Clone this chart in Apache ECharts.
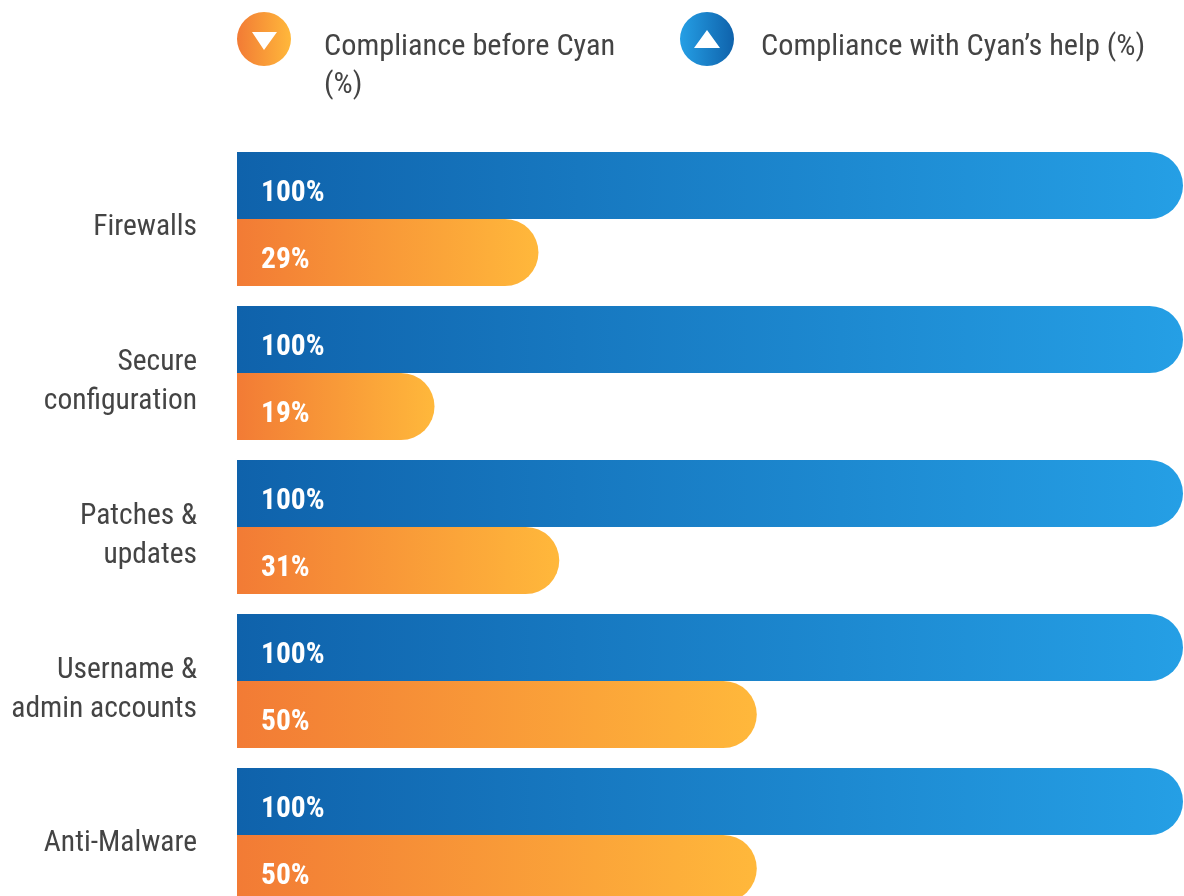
<!DOCTYPE html>
<html>
<head>
<meta charset="utf-8">
<title>Compliance before and with Cyan</title>
<style>
  html, body { margin: 0; padding: 0; background: #fff; }
  #chart { width: 1184px; height: 896px; }
</style>
<script src="https://cdn.jsdelivr.net/npm/echarts@6/dist/echarts.min.js"></script>
</head>
<body>
<div id="chart"></div>
<script>
const categories = ['Firewalls', 'Secure\nconfiguration', 'Patches &\nupdates', 'Username &\nadmin accounts', 'Anti-Malware'];
const withCyan = [100, 100, 100, 100, 100];
const beforeCyan = [29, 19, 31, 50, 50];

const FONT = '"Roboto Condensed", "Liberation Sans", sans-serif';
const BEFORE_NAME = 'Compliance before Cyan (%)';
const WITH_NAME = 'Compliance with Cyan\u2019s help (%)';

// left to right gradient, as used on the bars and legend badges
const grad = (from, to) => new echarts.graphic.LinearGradient(0, 0, 1, 0, [
  { offset: 0, color: from },
  { offset: 1, color: to },
]);

// circle with a triangle cut out of it
const CIRCLE = 'M27 0A27 27 0 1 1 27 54A27 27 0 1 1 27 0Z';
const ICON_DOWN = 'path://' + CIRCLE + 'M15 20L27 38L40 20Z';
const ICON_UP = 'path://' + CIRCLE + 'M27 18L14 36L40 36Z';

// legend text sits lower than its badge, the spacer line pushes it down
const legendBase = (spacer, gap) => ({
  orient: 'horizontal',
  padding: 0,
  itemWidth: 54,
  itemHeight: 54,
  selectedMode: false,
  textStyle: {
    padding: [0, 0, 0, gap],
    rich: {
      s: { height: spacer, fontSize: 1, lineHeight: spacer },
      t: { fontFamily: FONT, fontSize: 30.3, lineHeight: 38, color: '#444' },
    },
  },
});

const barLabel = {
  show: true,
  position: 'insideLeft',
  distance: 24,
  offset: [0, 8],
  formatter: '{c}%',
  fontFamily: FONT,
  fontSize: 29.5,
  fontWeight: 'bold',
  color: '#fff',
};

const chart = echarts.init(document.getElementById('chart'));
chart.setOption({
  animation: false,
  backgroundColor: '#fff',
  legend: [
    Object.assign(legendBase(54, 28), {
      left: 237,
      top: -26,
      data: [{ name: BEFORE_NAME, icon: ICON_DOWN, itemStyle: { color: grad('#f27b35', '#ffb83b') } }],
      formatter: '{s| }\n{t|Compliance before Cyan}\n{t|(%)}',
    }),
    Object.assign(legendBase(16, 22), {
      left: 680,
      top: 12,
      data: [{ name: WITH_NAME, icon: ICON_UP, itemStyle: { color: grad('#259fe5', '#0f62ab') } }],
      formatter: '{s| }\n{t|Compliance with Cyan\u2019s help (%)}',
    }),
  ],
  // runs past the bottom of the page, the last orange bar is cut off like in the picture
  grid: { left: 237, top: 142, width: 946, height: 770, outerBoundsMode: 'none' },
  xAxis: [
    { type: 'value', min: 0, max: 100, show: false },
    { type: 'value', min: 0, max: 91, show: false },
  ],
  yAxis: {
    type: 'category',
    inverse: true,
    data: categories,
    axisLine: { show: false },
    axisTick: { show: false },
    axisLabel: {
      margin: 40,
      align: 'right',
      formatter: (value) => '{s| }\n' + value.split('\n').map((line) => '{t|' + line + '}').join('\n'),
      rich: {
        s: { height: 18, fontSize: 1, lineHeight: 18 },
        t: { fontFamily: FONT, fontSize: 29.5, lineHeight: 38.5, color: '#444', align: 'right' },
      },
    },
  },
  series: [
    {
      name: WITH_NAME,
      type: 'bar',
      xAxisIndex: 0,
      data: withCyan,
      barWidth: 67,
      barGap: 0,
      itemStyle: { color: grad('#0f62ab', '#259fe5'), borderRadius: [0, 33.5, 33.5, 0] },
      label: barLabel,
    },
    {
      name: BEFORE_NAME,
      type: 'bar',
      xAxisIndex: 1,
      data: beforeCyan,
      barWidth: 67,
      barGap: 0,
      itemStyle: { color: grad('#f27b35', '#ffb83b'), borderRadius: [0, 33.5, 33.5, 0] },
      label: barLabel,
    },
  ],
});
</script>
</body>
</html>
